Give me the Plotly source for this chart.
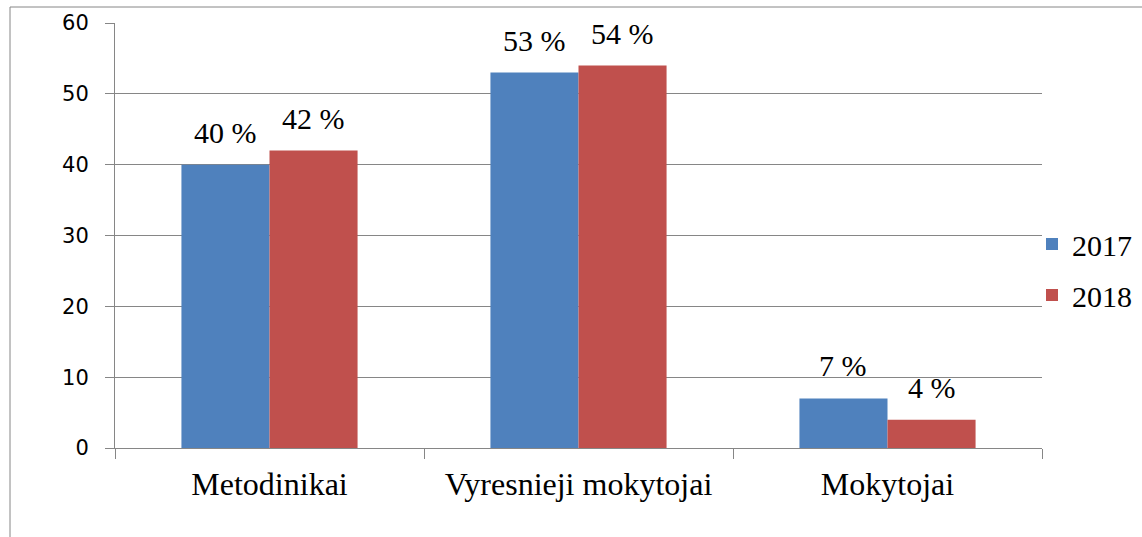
import plotly.graph_objects as go

categories = ["Metodinikai", "Vyresnieji mokytojai", "Mokytojai"]
values_2017 = [40, 53, 7]
values_2018 = [42, 54, 4]
labels_2017 = ["40 %", "53 %", "7 %"]
labels_2018 = ["42 %", "54 %", "4 %"]
y_ticks = [0, 10, 20, 30, 40, 50, 60]

serif = "Liberation Serif, Times New Roman, serif"
W, H = 1142, 537
L, R, T, B = 115, 100, 23, 89
pw, ph = W - L - R, H - T - B
bargap = 0.43
bar_px = pw / len(categories) * (1 - bargap) / 2

fig = go.Figure()
fig.add_trace(go.Bar(name="2017", x=categories, y=values_2017, legendgroup="a",
                     marker=dict(color="#4F81BD", line=dict(width=0))))
fig.add_trace(go.Bar(name="2018", x=categories, y=values_2018, legendgroup="b",
                     marker=dict(color="#C0504D", line=dict(width=0))))

annotations = []
for vals, labs, sign in [(values_2017, labels_2017, -1), (values_2018, labels_2018, 1)]:
    for c, v, t in zip(categories, vals, labs):
        annotations.append(dict(x=c, y=v, xref="x", yref="y", text=t, showarrow=False,
                                xanchor="center", yanchor="bottom",
                                xshift=sign * bar_px / 2, yshift=14,
                                font=dict(family=serif, size=30, color="black")))

fig.update_layout(
    width=W, height=H,
    margin=dict(l=L, r=R, t=T, b=B, autoexpand=False),
    paper_bgcolor="white", plot_bgcolor="white",
    barmode="group", bargap=bargap, bargroupgap=0,
    annotations=annotations,
    legend=dict(x=(1032 - L) / pw, y=(H - B - 269.5) / ph, xanchor="left", yanchor="middle",
                font=dict(family=serif, size=30, color="black"), bgcolor="rgba(0,0,0,0)",
                itemwidth=30, tracegroupgap=9),
    xaxis=dict(showgrid=False, showline=True, linecolor="#868686", linewidth=1,
               ticks="outside", tickson="boundaries", ticklen=10, tickcolor="#868686",
               automargin=False, ticklabelstandoff=8,
               tickfont=dict(family=serif, size=32, color="black"), fixedrange=True),
    yaxis=dict(range=[0, 60], tickvals=y_ticks, showgrid=True, gridcolor="#868686", gridwidth=1,
               showline=True, linecolor="#868686", linewidth=1, ticks="outside", ticklen=9,
               tickcolor="#868686", zeroline=False, automargin=False, ticklabelstandoff=12,
               tickfont=dict(family="DejaVu Sans, sans-serif", size=21, color="black")),
    shapes=[dict(type="rect", xref="paper", yref="paper",
                 x0=(10 - L) / pw, x1=(W + 5 - L) / pw,
                 y0=(H - B - (H + 5)) / ph, y1=(H - B - 7) / ph,
                 line=dict(color="#868686", width=1), fillcolor="rgba(0,0,0,0)", layer="below")],
)
fig.write_html("out.html", config={"displayModeBar": False},
               post_script="document.body.style.margin='0';document.body.style.overflow='hidden';")
